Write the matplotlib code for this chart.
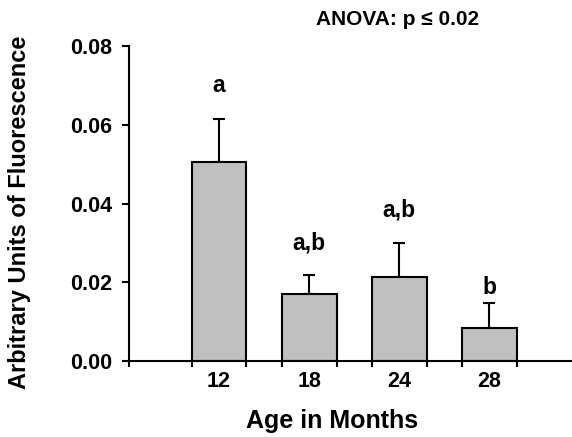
import numpy as np
import matplotlib.pyplot as plt

plt.rcParams['font.family'] = ['Liberation Sans', 'DejaVu Sans']
plt.rcParams['font.weight'] = 'bold'

ages = ['12', '18', '24', '28']
fluorescence = [0.0506, 0.0170, 0.0213, 0.0085]
sem_upper = [0.0109, 0.0048, 0.0087, 0.0062]
letters = ['a', 'a,b', 'a,b', 'b']
letter_heights = [0.0683, 0.0282, 0.0366, 0.0170]

fig = plt.figure(figsize=(5.72, 4.37), dpi=100)
ax = fig.add_axes([0.2255, 0.1739, 0.7745, 0.7208])

x = np.arange(len(ages))
width = 0.61
ax.bar(x, fluorescence, width=width, color='#c0c0c0', edgecolor='black',
       linewidth=1.5, zorder=2)
ax.errorbar(x, fluorescence, yerr=[np.zeros(len(x)), sem_upper], fmt='none',
            ecolor='black', elinewidth=1.5, capsize=4, capthick=1.5, zorder=1)

for xi, txt, h in zip(x, letters, letter_heights):
    ax.text(xi, h, txt, ha='center', va='baseline', fontsize=16.5, fontweight='bold')

ax.set_xlim(-1, 3.92)
ax.set_ylim(0, 0.08)
ax.set_yticks([0, 0.02, 0.04, 0.06, 0.08])
ax.set_yticklabels(['0.00', '0.02', '0.04', '0.06', '0.08'])
ax.set_xticks(x)
ax.set_xticklabels(ages)
edges = np.concatenate([[-1], np.ravel([[xi - width / 2, xi + width / 2] for xi in x])])
ax.set_xticks(edges, minor=True)

ax.tick_params(axis='x', which='major', length=0, pad=7, labelsize=15.5)
ax.tick_params(axis='x', which='minor', length=4, width=1.5, direction='out')
ax.tick_params(axis='y', length=5, width=1.5, pad=7, labelsize=15.5)

for s in ['top', 'right']:
    ax.spines[s].set_visible(False)
for s in ['left', 'bottom']:
    ax.spines[s].set_linewidth(1.5)
ax.spines['bottom'].set_position(('data', 0))

ax.set_xlabel('Age in Months', fontsize=18, fontweight='bold')
ax.set_ylabel('Arbitrary Units of Fluorescence', fontsize=17, fontweight='bold')
ax.xaxis.set_label_coords(0.458, -0.152)
ax.yaxis.set_label_coords(-0.222, 0.473)

fig.text(0.695, 0.955, 'ANOVA: p \u2264 0.02', ha='center', va='center',
         fontsize=15, fontweight='bold')

fig.savefig('out.png', dpi=100)
